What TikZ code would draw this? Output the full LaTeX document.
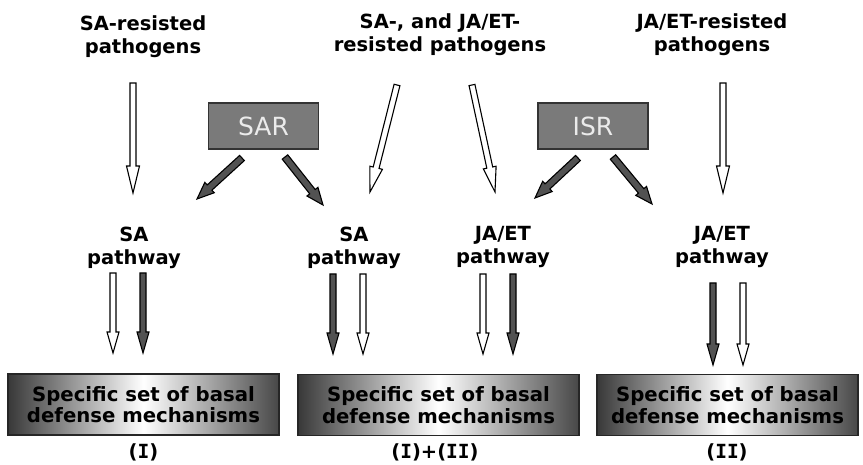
\documentclass[tikz,border=0pt]{standalone}
\usepackage{fontspec}
\setmainfont{DejaVu Sans}
\newfontfamily\serifI{DejaVu Sans Mono}
\usetikzlibrary{calc}
\newcommand\blockarrow[6]{%
  \coordinate (bab) at ($(#3)!#6!(#2)$);
  \draw[#1] ($(#2)!#4!-90:(#3)$) -- ($(bab)!#4!-90:(#3)$) -- ($(bab)!#5!-90:(#3)$) -- (#3)
    -- ($(bab)!#5!90:(#3)$) -- ($(bab)!#4!90:(#3)$) -- ($(#2)!#4!90:(#3)$) -- cycle;
}
\newcommand\RI{{\serifI\bfseries I}}
\tikzset{
  lbl/.style={font=\bfseries\fontsize{19.5}{23}\selectfont, align=center, inner sep=0pt, anchor=north},
  whitearr/.style={fill=white, draw=black, line width=1.1pt, line join=miter},
  darkarr/.style={fill=black!68, draw=black, line width=1.1pt, line join=miter},
  resbox/.style={fill=black!52, draw=black!80, line width=1.3pt, minimum width=110pt, minimum height=46pt,
    font=\fontsize{25}{28}\selectfont, text=black!8, inner sep=0pt},
  defbox/.style={draw=black!85, line width=1.3pt, left color=black!78, right color=black!72, middle color=white,
    minimum height=61pt, align=center, inner sep=0pt,
    font=\bfseries\fontsize{19.7}{21.5}\selectfont},
  roman/.style={font=\bfseries\fontsize{19.5}{23}\selectfont, inner sep=0pt, anchor=base}
}
\begin{document}
\begin{tikzpicture}[x=1pt,y=-1pt]
\useasboundingbox (0,0) rectangle (863,465);
% top labels
\node[lbl] (t1) at (143,15) {SA-resisted\\pathogens};
\node[lbl] (t2) at (440,13) {SA-, and JA/ET-\\resisted pathogens};
\node[lbl] (t3) at (712,13) {JA/ET-resisted\\pathogens};
% SAR / ISR
\node[resbox] (sar) at (263.5,126) {SAR};
\node[resbox] (isr) at (593,126) {ISR};
% pathway labels
\node[lbl] (p1) at (134,227) {SA\\pathway};
\node[lbl] (p2) at (354,227) {SA\\pathway};
\node[lbl] (p3) at (503,226) {JA/ET\\pathway};
\node[lbl] (p4) at (722,226) {JA/ET\\pathway};
% bottom boxes
\node[defbox, minimum width=271pt] (b1) at (143.5,404.5) {Specific set of basal\\defense mechanisms};
\node[defbox, minimum width=281pt] (b2) at (438.5,405) {Specific set of basal\\defense mechanisms};
\node[defbox, minimum width=261pt] (b3) at (727.5,405) {Specific set of basal\\defense mechanisms};
\node[roman] (r1) at (143.5,458) {(\RI)};
\node[roman] (r2) at (435,458) {(\RI)+(\RI\RI)};
\node[roman] (r3) at (727,458) {(\RI\RI)};
% arrow end points
\coordinate (w1s) at (133,83);  \coordinate (w1e) at (133,193);
\coordinate (w4s) at (723,83);  \coordinate (w4e) at (723,193);
\coordinate (w2s) at (397,85);  \coordinate (w2e) at (370,192);
\coordinate (w3s) at (472,85);  \coordinate (w3e) at (495,192);
\coordinate (s1s) at (242,158); \coordinate (s1e) at (197,199);
\coordinate (s2s) at (285,157); \coordinate (s2e) at (323,205);
\coordinate (i1s) at (578,158); \coordinate (i1e) at (535,198);
\coordinate (i2s) at (613,157); \coordinate (i2e) at (652,204);
\coordinate (a1s) at (113,273); \coordinate (a1e) at (113,353);
\coordinate (a2s) at (143,273); \coordinate (a2e) at (143,353);
\coordinate (a3s) at (333,274); \coordinate (a3e) at (333,354);
\coordinate (a4s) at (363,274); \coordinate (a4e) at (363,354);
\coordinate (a5s) at (483,274); \coordinate (a5e) at (483,354);
\coordinate (a6s) at (513,274); \coordinate (a6e) at (513,354);
\coordinate (a7s) at (713,283); \coordinate (a7e) at (713,365);
\coordinate (a8s) at (743,283); \coordinate (a8e) at (743,365);
% top white arrows
\blockarrow{whitearr}{w1s}{w1e}{3pt}{6.5pt}{27pt}
\blockarrow{whitearr}{w4s}{w4e}{3pt}{6.5pt}{27pt}
\blockarrow{whitearr}{w2s}{w2e}{3pt}{6.5pt}{25pt}
\blockarrow{whitearr}{w3s}{w3e}{3pt}{6.5pt}{25pt}
% SAR / ISR dark arrows
\blockarrow{darkarr}{s1s}{s1e}{3.5pt}{7pt}{17pt}
\blockarrow{darkarr}{s2s}{s2e}{3.5pt}{7pt}{17pt}
\blockarrow{darkarr}{i1s}{i1e}{3.5pt}{7pt}{17pt}
\blockarrow{darkarr}{i2s}{i2e}{3.5pt}{7pt}{17pt}
% bottom pairs
\blockarrow{whitearr}{a1s}{a1e}{3pt}{6pt}{21pt}
\blockarrow{darkarr}{a2s}{a2e}{3pt}{6pt}{21pt}
\blockarrow{darkarr}{a3s}{a3e}{3pt}{6pt}{21pt}
\blockarrow{whitearr}{a4s}{a4e}{3pt}{6pt}{21pt}
\blockarrow{whitearr}{a5s}{a5e}{3pt}{6pt}{21pt}
\blockarrow{darkarr}{a6s}{a6e}{3pt}{6pt}{21pt}
\blockarrow{darkarr}{a7s}{a7e}{3pt}{6pt}{21pt}
\blockarrow{whitearr}{a8s}{a8e}{3pt}{6pt}{21pt}
\end{tikzpicture}
\end{document}
